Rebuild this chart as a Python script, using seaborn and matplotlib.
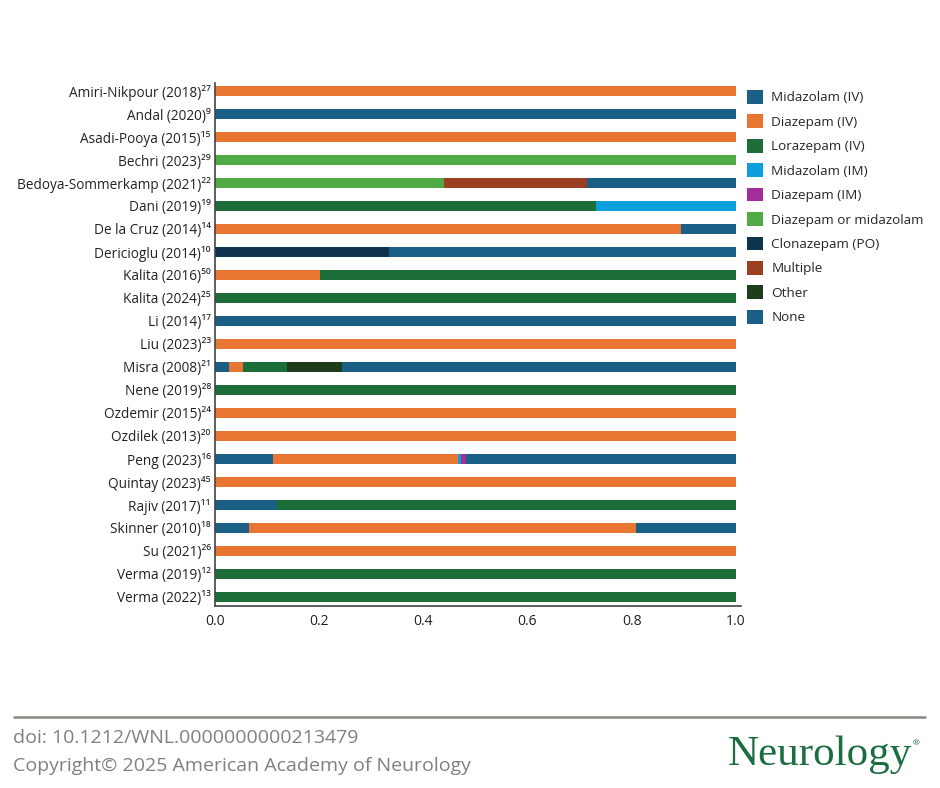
import numpy as np
import pandas as pd
import seaborn as sns
import matplotlib.pyplot as plt
from matplotlib.patches import Patch
from matplotlib.lines import Line2D

# Studies (top to bottom) and the share of each treatment
studies = ['Amiri-Nikpour (2018)²⁷', 'Andal (2020)⁹', 'Asadi-Pooya (2015)¹⁵', 'Bechri (2023)²⁹',
           'Bedoya-Sommerkamp (2021)²²', 'Dani (2019)¹⁹', 'De la Cruz (2014)¹⁴', 'Dericioglu (2014)¹⁰',
           'Kalita (2016)⁵⁰', 'Kalita (2024)²⁵', 'Li (2014)¹⁷', 'Liu (2023)²³', 'Misra (2008)²¹',
           'Nene (2019)²⁸', 'Ozdemir (2015)²⁴', 'Ozdilek (2013)²⁰', 'Peng (2023)¹⁶', 'Quintay (2023)⁴⁵',
           'Rajiv (2017)¹¹', 'Skinner (2010)¹⁸', 'Su (2021)²⁶', 'Verma (2019)¹²', 'Verma (2022)¹³']

midazolam_iv = [0, 1, 0, 0, 0, 0, 0, 0, 0, 0, 1, 0, 0.026, 0, 0, 0, 0.111, 0, 0.119, 0.066, 0, 0, 0]
diazepam_iv = [1, 0, 1, 0, 0, 0, 0.894, 0, 0.202, 0, 0, 1, 0.027, 0, 1, 1, 0.356, 1, 0, 0.742, 1, 0, 0]
lorazepam_iv = [0, 0, 0, 0, 0, 0.731, 0, 0, 0.798, 1, 0, 0, 0.085, 1, 0, 0, 0, 0, 0.881, 0, 0, 1, 1]
midazolam_im = [0, 0, 0, 0, 0, 0.269, 0, 0, 0, 0, 0, 0, 0, 0, 0, 0, 0.006, 0, 0, 0, 0, 0, 0]
diazepam_im = [0, 0, 0, 0, 0, 0, 0, 0, 0, 0, 0, 0, 0, 0, 0, 0, 0.009, 0, 0, 0, 0, 0, 0]
diaz_or_midaz = [0, 0, 0, 1, 0.44, 0, 0, 0, 0, 0, 0, 0, 0, 0, 0, 0, 0, 0, 0, 0, 0, 0, 0]
clonazepam_po = [0, 0, 0, 0, 0, 0, 0, 0.335, 0, 0, 0, 0, 0, 0, 0, 0, 0, 0, 0, 0, 0, 0, 0]
multiple = [0, 0, 0, 0, 0.275, 0, 0, 0, 0, 0, 0, 0, 0, 0, 0, 0, 0, 0, 0, 0, 0, 0, 0]
other = [0, 0, 0, 0, 0, 0, 0, 0, 0, 0, 0, 0, 0.105, 0, 0, 0, 0, 0, 0, 0, 0, 0, 0]
none = [0, 0, 0, 0, 0.285, 0, 0.106, 0.665, 0, 0, 0, 0, 0.757, 0, 0, 0, 0.518, 0, 0, 0.192, 0, 0, 0]

treatments = ['Midazolam (IV)', 'Diazepam (IV)', 'Lorazepam (IV)', 'Midazolam (IM)', 'Diazepam (IM)',
              'Diazepam or midazolam', 'Clonazepam (PO)', 'Multiple', 'Other', 'None']
colors = ['#1a5f86', '#e97532', '#1c6d38', '#0ba0db', '#a22e9c',
          '#50ab47', '#0e3450', '#9a3f22', '#1f3d1d', '#1a5f86']

df = pd.DataFrame(dict(zip(treatments, [midazolam_iv, diazepam_iv, lorazepam_iv, midazolam_im,
                                        diazepam_im, diaz_or_midaz, clonazepam_po, multiple,
                                        other, none])))
df['study'] = studies
cum = df[treatments].cumsum(axis=1)

sns.set_style('white')
plt.rcParams['font.family'] = ['Open Sans', 'DejaVu Sans']

fig = plt.figure(figsize=(9.4, 7.88), dpi=100)
ax = fig.add_axes([215 / 940, 1 - 606 / 788, 526 / 940, 523 / 788])

# stacked bars: draw the cumulative totals from the last layer to the first
for name, col in reversed(list(zip(treatments, colors))):
    sns.barplot(x=cum[name], y=df['study'], orient='h', color=col, width=0.45,
                linewidth=0, saturation=1, ax=ax)

ax.set_xlim(0, 1.01)
ax.set_ylim(22.4, -0.35)
ax.set_xlabel('')
ax.set_ylabel('')
ax.set_xticks([0, 0.2, 0.4, 0.6, 0.8, 1.0])
ax.set_xticklabels(['0.0', '0.2', '0.4', '0.6', '0.8', '1.0'])
ax.tick_params(axis='x', length=4, width=1, color='#333333', labelsize=10, labelcolor='#222222', pad=2)
ax.tick_params(axis='y', length=0, labelsize=9.8, labelcolor='#222222', pad=3)
for s in ['top', 'right']:
    ax.spines[s].set_visible(False)
for s in ['left', 'bottom']:
    ax.spines[s].set_color('#444444')
    ax.spines[s].set_linewidth(1.2)

handles = [Patch(facecolor=c, edgecolor='none', label=t) for t, c in zip(treatments, colors)]
fig.legend(handles=handles, loc='upper left', bbox_to_anchor=(747 / 940, 1 - 90 / 788),
           frameon=False, fontsize=9.7, handlelength=1.2, handleheight=1.2,
           handletextpad=0.6, labelspacing=0.74, borderpad=0, borderaxespad=0)

# footer
fig.add_artist(Line2D([14 / 940, 925 / 940], [1 - 717 / 788] * 2, color='#8a8580', lw=1.8))
fig.text(13 / 940, 1 - 738 / 788, 'doi: 10.1212/WNL.0000000000213479', fontsize=14,
         color='#808080', va='center', ha='left')
fig.text(13 / 940, 1 - 766 / 788, 'Copyright© 2025 American Academy of Neurology', fontsize=14,
         color='#808080', va='center', ha='left')
fig.text(912 / 940, 1 - 755 / 788, 'Neurology', fontsize=31, color='#1a6e3f',
         family='Liberation Serif', va='center', ha='right')
fig.text(913 / 940, 1 - 744 / 788, '®', fontsize=6, color='#1a6e3f', va='center', ha='left')

fig.savefig('out.png', dpi=100)
